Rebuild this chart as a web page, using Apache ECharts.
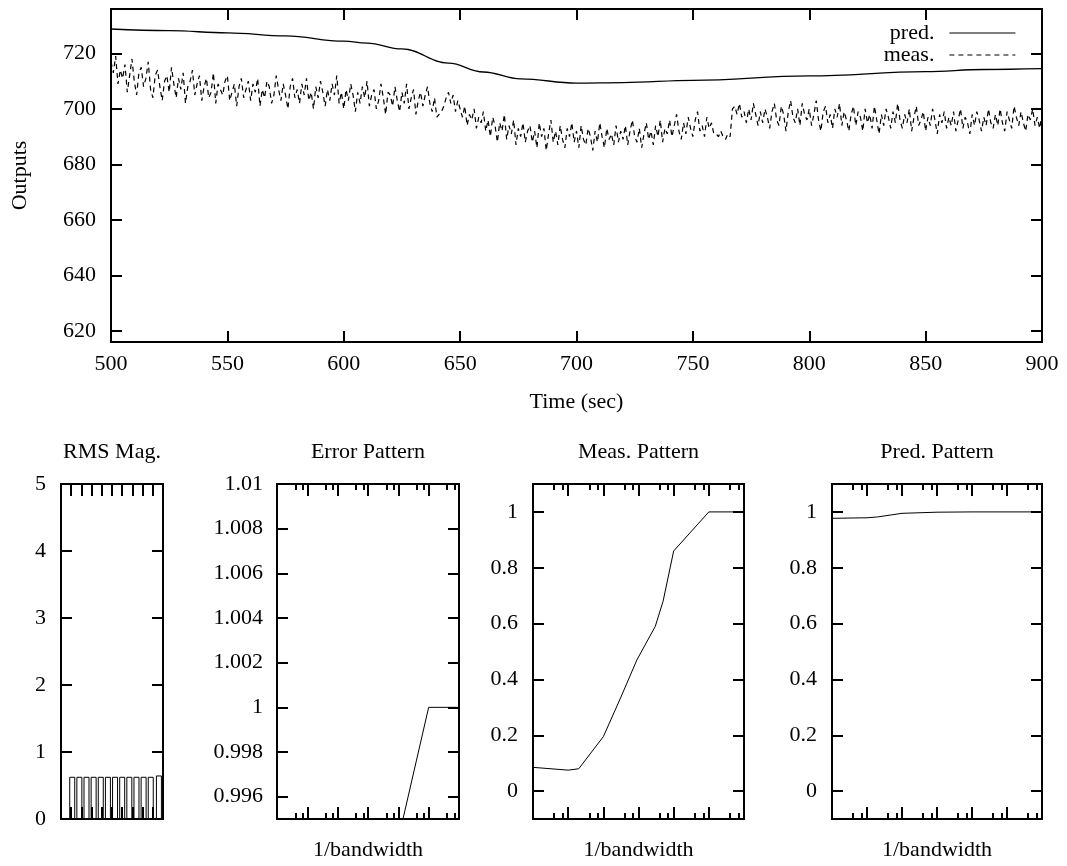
<!DOCTYPE html>
<html><head><meta charset="utf-8">
<script src="https://cdn.jsdelivr.net/npm/echarts@6/dist/echarts.min.js"></script>
<style>html,body{margin:0;padding:0;background:#fff}#c{width:1067px;height:866px}</style>
</head><body><div id="c"></div>
<script>
const FONT = 'Liberation Serif';
const FS = 22;

// ---------- top plot data ----------
const timeRange = [500, 900];
const timeTicks = 50;
const outputRange = [616, 736];
const outputTicks = [620, 640, 660, 680, 700, 720];
const measStart = 500, measStep = 1;
const measValues = [
  717, 713, 719, 709, 714, 711, 716, 706, 712, 718, 710, 705, 713, 715, 708, 711, 717, 707, 704, 712,
  714, 708, 703, 710, 712, 706, 715, 709, 704, 711, 707, 713, 702, 708, 710, 714, 705, 709, 712, 703,
  708, 711, 704, 706, 713, 702, 709, 707, 705, 710, 712, 703, 706, 709, 701, 708, 711, 704, 707, 710,
  703, 709, 706, 711, 701, 707, 704, 710, 708, 702, 705, 712, 707, 703, 709, 705, 700, 708, 711, 704,
  707, 702, 709, 705, 711, 703, 706, 700, 708, 704, 710, 706, 701, 707, 703, 709, 705, 712, 702, 706,
  700, 707, 703, 709, 705, 699, 706, 702, 708, 704, 710, 701, 705, 707, 700, 703, 709, 704, 698, 706,
  705, 701, 708, 703, 699, 706, 702, 709, 700, 704, 707, 698, 703, 706, 701, 705, 708, 702, 699, 704,
  697, 698, 699, 701, 704, 706, 702, 705, 699, 703, 700, 697, 701, 694, 698, 696, 700, 693, 697, 695,
  699, 692, 696, 690, 697, 694, 688, 695, 692, 698, 689, 694, 691, 696, 687, 693, 690, 695, 688, 692,
  694, 688, 692, 686, 695, 690, 693, 685, 691, 696, 688, 692, 687, 694, 689, 686, 693, 690, 695, 688,
  692, 686, 694, 689, 687, 693, 690, 685, 692, 688, 695, 690, 686, 693, 689, 691, 687, 694, 688, 692,
  689, 694, 687, 692, 696, 690, 688, 693, 686, 691, 695, 689, 692, 687, 694, 690, 696, 688, 693, 691,
  696, 690, 694, 698, 692, 689, 695, 691, 697, 693, 690, 696, 699, 692, 694, 690, 697, 693, 695, 691,
  691, 690, 692, 690, 689, 691, 690, 700, 701, 698, 702, 697, 699, 695, 700, 696, 702, 698, 694, 699,
  695, 700, 697, 693, 699, 702, 696, 694, 701, 698, 692, 699, 703, 697, 695, 700, 694, 702, 698, 696,
  700, 694, 698, 703, 696, 692, 699, 701, 695, 698, 693, 700, 697, 702, 694, 699, 696, 692, 698, 701,
  694, 699, 697, 692, 700, 695, 698, 693, 701, 696, 691, 698, 694, 700, 697, 693, 699, 695, 702, 696,
  693, 698, 695, 700, 692, 697, 701, 694, 696, 699, 692, 697, 694, 700, 696, 691, 698, 695, 699, 693,
  697, 694, 699, 692, 696, 700, 693, 697, 695, 691, 698, 694, 699, 696, 692, 697, 694, 700, 695, 693,
  698, 694, 700, 695, 692, 699, 696, 693, 701, 697, 694, 699, 695, 692, 698, 696, 700, 694, 697, 693,
  698
];
const predTimes  = [500, 525, 550, 575, 600, 610, 625, 645, 660, 676, 700, 720, 750, 800, 850, 875, 900];
const predValues = [728.8, 728.2, 727.4, 726.3, 724.4, 723.7, 721.6, 716.5, 713.3, 710.8, 709.3, 709.5, 710.3, 711.9, 713.4, 714.2, 714.5];

// ---------- bottom panels data ----------
const rmsRange = [0, 5];
const rmsXRange = [0, 10];
const rmsX = [1.1, 1.8, 2.5, 3.2, 3.9, 4.6, 5.3, 6.0, 6.7, 7.4, 8.1, 8.8, 9.6];
const rmsValues = [0.63, 0.63, 0.63, 0.63, 0.63, 0.63, 0.63, 0.63, 0.63, 0.63, 0.63, 0.63, 0.65];

const bwRange = [1, 1000000];
const errRange = [0.995, 1.01];
const errTicks = [0.996, 0.998, 1, 1.002, 1.004, 1.006, 1.008, 1.01];
const errBw = [10000, 100000, 1000000];
const errValues = [0.9941, 1.0, 1.0];

const patRange = [-0.1, 1.1];
const patTicks = [0, 0.2, 0.4, 0.6, 0.8, 1];
const measPatBw = [1, 10, 20, 100, 300, 900, 3000, 5000, 10000, 100000, 1000000];
const measPatValues = [0.085, 0.075, 0.08, 0.195, 0.33, 0.47, 0.59, 0.68, 0.86, 1.0, 1.0];
const predPatBw = [1, 10, 20, 100, 1000, 10000, 100000, 1000000];
const predPatValues = [0.977, 0.979, 0.982, 0.995, 0.999, 1.0, 1.0, 1.0];

const titles = ['RMS Mag.', 'Error Pattern', 'Meas. Pattern', 'Pred. Pattern'];

// ---------- layout ----------
const grids = [
  {left: 111, top: 9, width: 931, height: 333},
  {left: 61, top: 484, width: 102, height: 335},
  {left: 277, top: 484, width: 182, height: 335},
  {left: 533, top: 484, width: 211, height: 335},
  {left: 832, top: 484, width: 210, height: 335}
];

const black = '#000';
const labelStyle = {color: black, fontFamily: FONT, fontSize: FS};
const tickStyle = {color: black, width: 2};

const xAxes = [], yAxes = [];
function addX(gi, base, extra) {
  xAxes.push(Object.assign({gridIndex: gi, position: 'bottom', axisLine: {show: false, onZero: false}, splitLine: {show: false},
    axisTick: {inside: true, length: 11, lineStyle: tickStyle},
    axisLabel: Object.assign({margin: 11}, labelStyle)}, base, extra || {}));
}
function addY(gi, base, extra) {
  yAxes.push(Object.assign({gridIndex: gi, position: 'left', axisLine: {show: false, onZero: false}, splitLine: {show: false},
    axisTick: {inside: true, length: 11, lineStyle: tickStyle},
    axisLabel: Object.assign({margin: 15}, labelStyle)}, base, extra || {}));
}
function mirrorX(gi, base) {
  addX(gi, base, {position: 'top', axisLabel: {show: false}, name: ''});
}
function mirrorY(gi, base) {
  addY(gi, base, {position: 'right', axisLabel: {show: false}, name: ''});
}

// grid 0
const tx = {type: 'value', min: timeRange[0], max: timeRange[1], interval: timeTicks};
addX(0, tx, {name: 'Time (sec)', nameLocation: 'middle', nameGap: 49, nameTextStyle: labelStyle});
mirrorX(0, tx);
const ty = {type: 'value', min: outputRange[0], max: outputRange[1],
  axisTick: {inside: true, length: 11, lineStyle: tickStyle, customValues: outputTicks}};
addY(0, ty, {name: 'Outputs', nameLocation: 'middle', nameGap: 80, nameRotate: 90, nameTextStyle: labelStyle,
  axisLabel: Object.assign({margin: 15, customValues: outputTicks}, labelStyle)});
mirrorY(0, ty);

// grid 1 RMS
const rx = {type: 'value', min: rmsXRange[0], max: rmsXRange[1], interval: 1,
  axisTick: {inside: true, length: 12, lineStyle: tickStyle}};
addX(1, rx, {axisLabel: {show: false}, z: 10});
mirrorX(1, rx);
const ry = {type: 'value', min: rmsRange[0], max: rmsRange[1], interval: 1,
  axisTick: {inside: true, length: 11, lineStyle: tickStyle}};
addY(1, ry);
mirrorY(1, ry);

// log panels
function logX(gi) {
  const lx = {type: 'log', logBase: 10, min: bwRange[0], max: bwRange[1], splitNumber: 6,
    axisTick: {inside: true, length: 12, lineStyle: tickStyle},
    minorTick: {show: true, splitNumber: 3, length: 6, lineStyle: tickStyle}};
  addX(gi, lx, {axisLabel: {show: false}, name: '1/bandwidth', nameLocation: 'middle', nameGap: 20, nameTextStyle: labelStyle});
  mirrorX(gi, lx);
}
const fmt3 = v => String(+(+v).toFixed(3));
logX(2);
const ey = {type: 'value', min: errRange[0], max: errRange[1],
  axisTick: {inside: true, length: 11, lineStyle: tickStyle, customValues: errTicks}};
addY(2, ey, {axisLabel: Object.assign({margin: 14, customValues: errTicks, formatter: fmt3}, labelStyle)});
mirrorY(2, ey);

for (const gi of [3, 4]) {
  logX(gi);
  const py = {type: 'value', min: patRange[0], max: patRange[1],
    axisTick: {inside: true, length: 11, lineStyle: tickStyle, customValues: patTicks}};
  addY(gi, py, {axisLabel: Object.assign({margin: 15, customValues: patTicks, formatter: fmt3}, labelStyle)});
  mirrorY(gi, py);
}

// primary axes of grid gi have index 2*gi
const series = [
  {name: 'pred.', type: 'line', xAxisIndex: 0, yAxisIndex: 0, symbol: 'none', smooth: 0.4, smoothMonotone: 'x',
   color: black, lineStyle: {color: black, width: 1.3},
   data: predTimes.map((t, i) => [t, predValues[i]])},
  {name: 'meas.', type: 'line', xAxisIndex: 0, yAxisIndex: 0, symbol: 'none',
   color: '#000', lineStyle: {color: '#000', width: 1.2, type: [5, 4]},
   data: measValues.map((v, i) => [measStart + i * measStep, v])},
  {type: 'bar', xAxisIndex: 2, yAxisIndex: 2, barWidth: 6, z: 1,
   itemStyle: {color: '#fff', borderColor: black, borderWidth: 1},
   data: rmsX.map((x, i) => [x, rmsValues[i]])},
  {type: 'line', xAxisIndex: 4, yAxisIndex: 4, symbol: 'none', lineStyle: {color: black, width: 1},
   data: errBw.map((x, i) => [x, errValues[i]])},
  {type: 'line', xAxisIndex: 6, yAxisIndex: 6, symbol: 'none', lineStyle: {color: black, width: 1},
   data: measPatBw.map((x, i) => [x, measPatValues[i]])},
  {type: 'line', xAxisIndex: 8, yAxisIndex: 8, symbol: 'none', lineStyle: {color: black, width: 1},
   data: predPatBw.map((x, i) => [x, predPatValues[i]])}
];

const titleOpts = titles.map((t, i) => ({
  text: t, left: grids[i + 1].left + grids[i + 1].width / 2, top: 441, textAlign: 'center', padding: 0,
  textStyle: {fontFamily: FONT, fontSize: FS, fontWeight: 'normal', color: black}
}));

const chart = echarts.init(document.getElementById('c'), null, {renderer: 'canvas'});
chart.setOption({
  animation: false,
  backgroundColor: '#fff',
  title: titleOpts,
  legend: {
    data: ['pred.', 'meas.'], orient: 'vertical', right: 46, top: 17, align: 'right',
    itemWidth: 66, itemHeight: 12, itemGap: 0,
    itemStyle: {opacity: 0},
    lineStyle: {width: 1.2},
    textStyle: {fontFamily: FONT, fontSize: FS, color: black, padding: [0, 10, 0, 0]}
  },
  grid: grids.map(g => Object.assign({show: true, borderColor: black, borderWidth: 2, backgroundColor: 'transparent', containLabel: false}, g)),
  xAxis: xAxes,
  yAxis: yAxes,
  series: series
});
</script></body></html>
